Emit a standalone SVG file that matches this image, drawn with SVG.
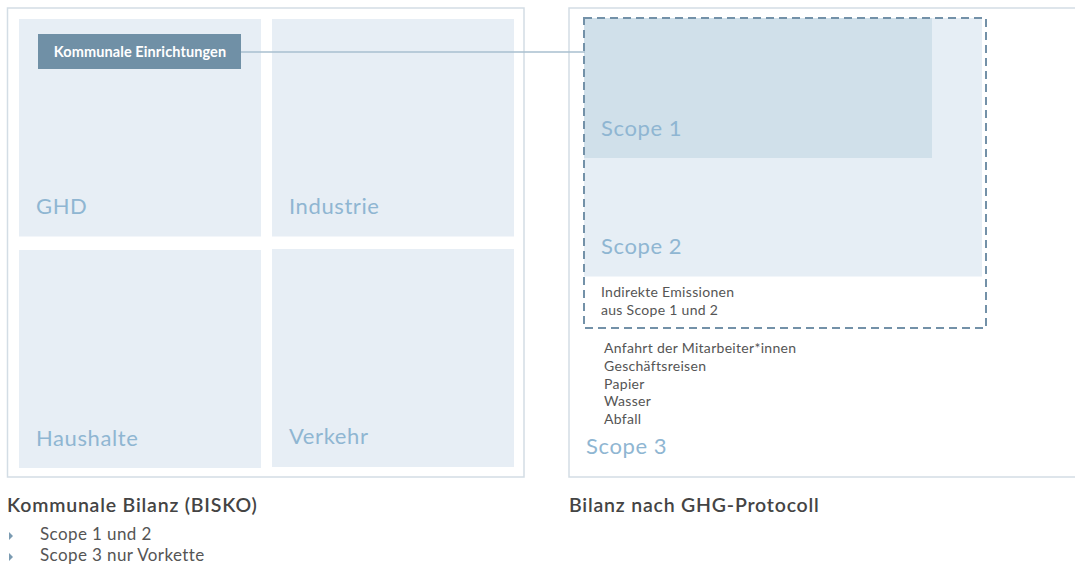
<svg xmlns="http://www.w3.org/2000/svg" width="1075" height="568" viewBox="0 0 1075 568">
<style>
.frame{fill:#ffffff;stroke:#d3dde5;stroke-width:1.5}
.cell{fill:#e7eef5}
.big{font-family:Lato,"Liberation Sans",sans-serif;font-weight:400;font-size:22px;letter-spacing:0.6px;fill:#8fb6d2}
.small{font-family:Lato,"Liberation Sans",sans-serif;font-size:14px;letter-spacing:0.3px;fill:#555555}
.head{font-family:Lato,"Liberation Sans",sans-serif;font-weight:600;font-size:19.5px;letter-spacing:0.8px;fill:#444444}
.bul{font-family:Lato,"Liberation Sans",sans-serif;font-size:17px;letter-spacing:0.4px;fill:#555555}
.tri{fill:#7b9bb2}
</style>
<rect width="1075" height="568" fill="#ffffff"/>
<g id="bisko">
<rect class="frame" x="7.5" y="8" width="516.5" height="469"/>
</g>
<g id="ghd"><rect class="cell" x="19" y="19" width="242" height="217.5"/><text class="big" x="36" y="214">GHD</text></g>
<g id="industrie"><rect class="cell" x="272" y="19" width="242" height="217.5"/><text class="big" x="289" y="214">Industrie</text></g>
<g id="haushalte"><rect class="cell" x="19" y="250" width="242" height="218"/><text class="big" x="36" y="446">Haushalte</text></g>
<g id="verkehr"><rect class="cell" x="272" y="249" width="242" height="218"/><text class="big" x="289" y="444">Verkehr</text></g>
<g id="ghg">
<rect class="frame" x="569" y="8" width="520" height="469"/>
</g>
<g id="scope2"><rect x="584" y="18" width="398" height="258.5" fill="#e6eef5"/><text class="big" x="601" y="254">Scope 2</text></g>
<g id="scope1"><rect x="584" y="18" width="348" height="140" fill="#d0e0ea"/><text class="big" x="601" y="136">Scope 1</text></g>
<g id="indirekt">
<rect x="584" y="18" width="402" height="310" fill="none" stroke="#7391a8" stroke-width="2" stroke-dasharray="8 5"/>
<text class="small" x="601" y="297">Indirekte Emissionen</text>
<text class="small" x="601" y="314.5">aus Scope 1 und 2</text>
</g>
<g id="scope3">
<text class="small" x="604" y="353">Anfahrt der Mitarbeiter*innen</text>
<text class="small" x="604" y="370.8">Geschäftsreisen</text>
<text class="small" x="604" y="388.6">Papier</text>
<text class="small" x="604" y="406.4">Wasser</text>
<text class="small" x="604" y="424.2">Abfall</text>
<text class="big" x="586" y="454">Scope 3</text>
</g>
<g id="connectors">
<line x1="241" y1="52" x2="585" y2="52" stroke="#a9bfcf" stroke-width="1.5"/>
</g>
<g id="kommunale">
<rect x="38" y="34" width="203" height="35" fill="#7090a6"/>
<text x="140" y="57" text-anchor="middle" font-family="Lato,'Liberation Sans',sans-serif" font-weight="700" font-size="14.5px" letter-spacing="0.1px" fill="#ffffff">Kommunale Einrichtungen</text>
</g>
<g id="legend-left">
<text class="head" x="7" y="512">Kommunale Bilanz (BISKO)</text>
<polygon class="tri" points="9,532 13,536 9,540"/>
<text class="bul" x="40" y="540">Scope 1 und 2</text>
<polygon class="tri" points="9,553 13,557 9,561"/>
<text class="bul" x="40" y="561">Scope 3 nur Vorkette</text>
</g>
<g id="legend-right">
<text class="head" x="569" y="512">Bilanz nach GHG-Protocoll</text>
</g>
</svg>
